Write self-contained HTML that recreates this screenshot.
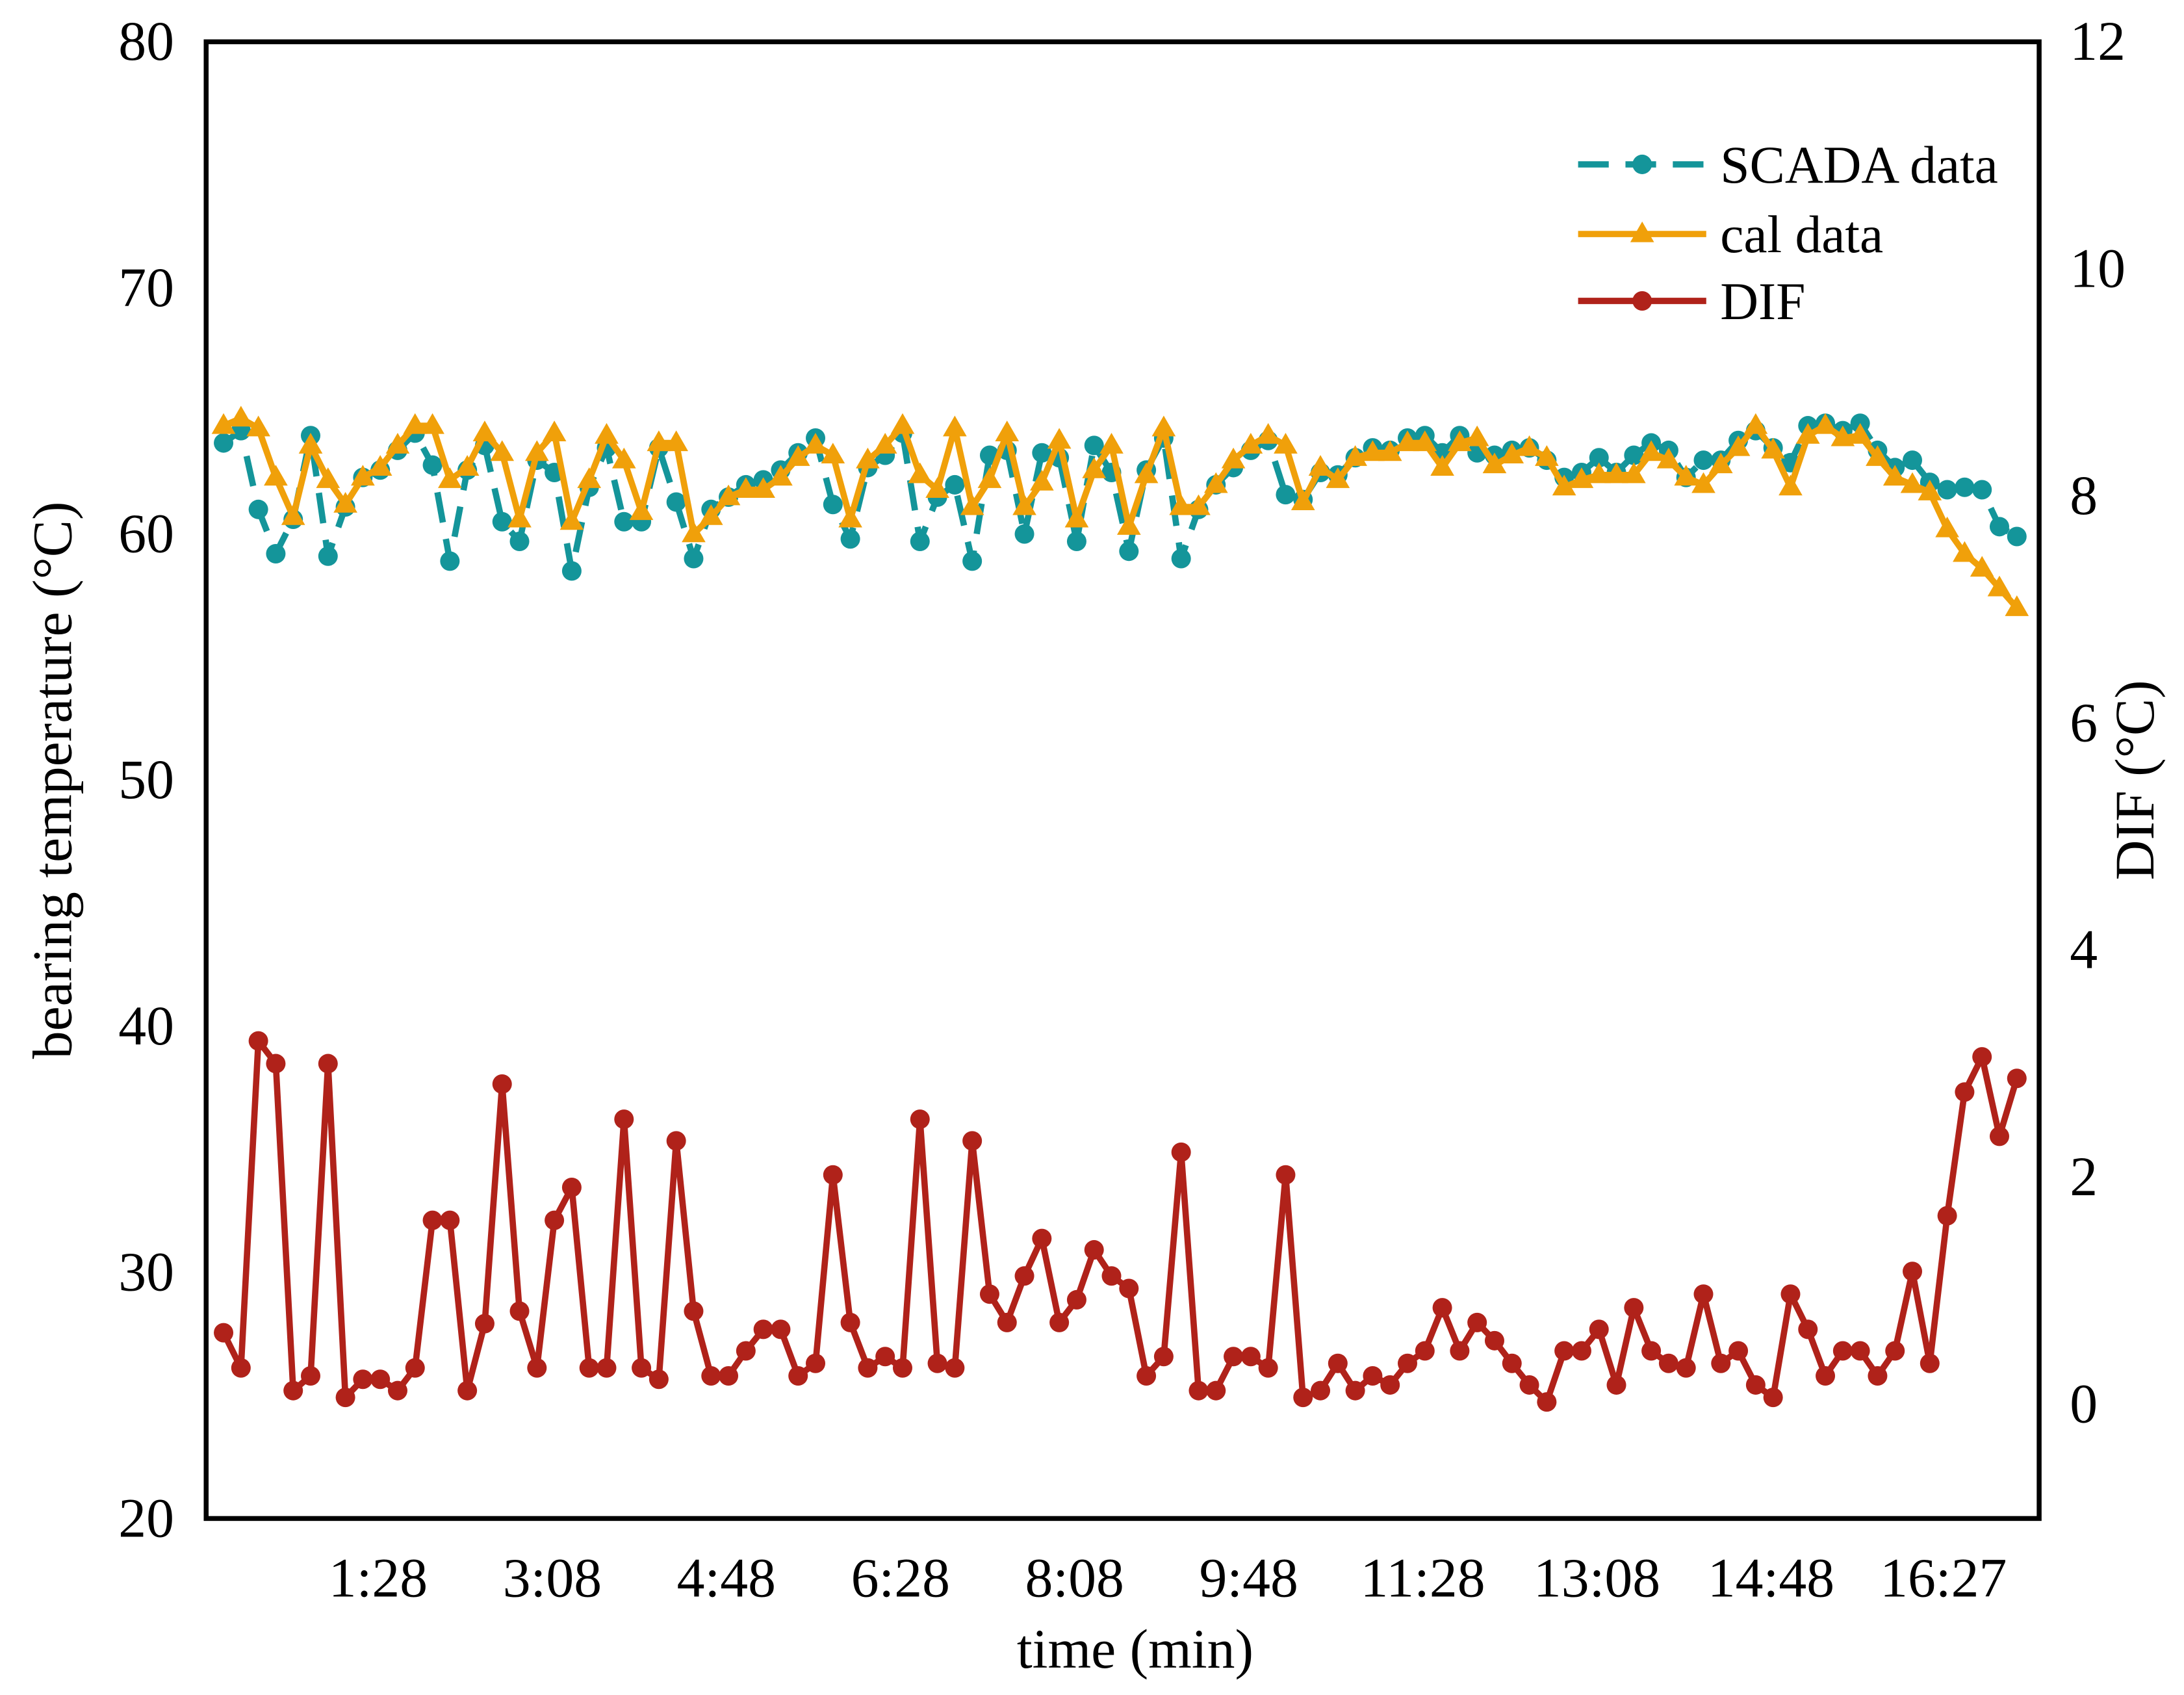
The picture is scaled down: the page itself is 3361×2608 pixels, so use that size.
<!DOCTYPE html>
<html><head><meta charset="utf-8"><style>html,body{margin:0;padding:0;background:#fff}svg{display:block}</style></head>
<body>
<svg id="chart" width="3361" height="2608" viewBox="0 0 1568 1216.7" xmlns="http://www.w3.org/2000/svg" font-family="'Liberation Serif', serif">
<rect x="0" y="0" width="1568" height="1217" fill="#fff"/>
<g id="plot"></g>
</svg>
<script>
const leftTicks=[20,30,40,50,60,70,80];
const rightTicks=[0,2,4,6,8,10,12];
const xTickLabels=["1:28","3:08","4:48","6:28","8:08","9:48","11:28","13:08","14:48","16:27"];
const xTickSeconds=[88,188,288,388,488,588,688,788,888,987];
const scada=[63.7,64.2,61.0,59.2,60.6,64.0,59.1,61.1,62.3,62.6,63.4,64.1,62.8,58.9,62.6,63.6,60.5,59.7,63.0,62.5,58.5,61.9,63.5,60.5,60.5,63.5,61.3,59.0,61.0,61.5,62.0,62.2,62.6,63.3,63.9,61.2,59.8,62.7,63.2,64.1,59.7,61.5,62.0,58.9,63.2,63.4,60.0,63.3,63.1,59.7,63.6,62.5,59.3,62.6,63.9,59.0,61.0,62.0,62.7,63.4,63.8,61.6,61.4,62.5,62.4,63.1,63.5,63.4,63.9,64.0,63.3,64.0,63.3,63.2,63.4,63.5,63.0,62.3,62.5,63.1,62.5,63.2,63.7,63.4,62.3,63.0,63.0,63.8,64.2,63.5,62.9,64.4,64.5,64.2,64.5,63.4,62.7,63.0,62.1,61.8,61.9,61.8,60.3,59.9];
const cal=[64.4,64.7,64.3,62.3,60.7,63.6,62.2,61.2,62.3,62.7,63.6,64.4,64.4,62.2,62.7,64.1,63.3,60.6,63.3,64.1,60.5,62.2,64.0,63.0,60.9,63.7,63.7,60.0,60.7,61.5,61.8,61.8,62.3,63.1,63.6,63.2,60.6,63.0,63.6,64.4,62.4,61.8,64.3,61.1,62.2,64.1,61.1,62.1,63.8,60.6,62.6,63.6,60.3,62.4,64.3,61.1,61.1,62.0,63.0,63.6,64.0,63.6,61.3,62.7,62.2,63.1,63.3,63.3,63.7,63.7,62.7,63.7,63.9,62.8,63.2,63.5,63.1,61.9,62.2,62.4,62.4,62.4,63.3,63.0,62.3,62.0,62.8,63.5,64.4,63.4,61.9,64.0,64.4,63.9,64.0,63.1,62.3,62.0,61.7,60.2,59.2,58.6,57.8,57.0];
const dif=[0.63,0.32,3.2,3.0,0.12,0.25,3.0,0.06,0.22,0.22,0.12,0.32,1.62,1.62,0.12,0.71,2.82,0.82,0.32,1.62,1.91,0.32,0.32,2.51,0.32,0.22,2.32,0.82,0.25,0.25,0.47,0.66,0.66,0.25,0.36,2.02,0.72,0.32,0.42,0.32,2.51,0.36,0.32,2.32,0.97,0.72,1.13,1.46,0.72,0.92,1.36,1.13,1.02,0.25,0.42,2.22,0.12,0.12,0.42,0.42,0.32,2.02,0.06,0.12,0.36,0.12,0.25,0.17,0.36,0.47,0.85,0.47,0.72,0.56,0.36,0.17,0.02,0.47,0.47,0.66,0.17,0.85,0.47,0.36,0.32,0.97,0.36,0.47,0.17,0.06,0.97,0.66,0.25,0.47,0.47,0.25,0.47,1.17,0.36,1.66,2.75,3.06,2.36,2.87];

const L=148,R=1464,T=30,B=1090;
const xs=t=>160.5+1.25*t;
const yL=v=>B-(v-20)*(B-T)/60;
const yR=v=>1008-v*(1008-T)/12;
const NS="http://www.w3.org/2000/svg";
const g=document.getElementById('plot');
function el(tag,attrs,parent){const e=document.createElementNS(NS,tag);for(const k in attrs)e.setAttribute(k,attrs[k]);(parent||g).appendChild(e);return e;}

const frame=el('rect',{x:L,y:T,width:R-L,height:B-T,fill:'none',stroke:'#000','stroke-width':3.5});



leftTicks.forEach(v=>{const t=el('text',{x:125,y:yL(v)+13,'text-anchor':'end','font-size':40,fill:'#000'});t.textContent=v;

});
rightTicks.forEach(v=>{const t=el('text',{x:1486,y:yR(v)+13,'text-anchor':'start','font-size':40,fill:'#000'});t.textContent=v;

});
xTickLabels.forEach((s,i)=>{const t=el('text',{x:xs(xTickSeconds[i])+1,y:1146,'text-anchor':'middle','font-size':40,fill:'#000'});t.textContent=s;

});

let t1=el('text',{x:0,y:0,'text-anchor':'middle','font-size':40,transform:'translate(51,560) rotate(-90)'});t1.textContent='bearing temperature (°C)';


let t2=el('text',{x:0,y:0,'text-anchor':'middle','font-size':40,transform:'translate(1546,560) rotate(-90)'});t2.textContent='DIF (°C)';


let t3=el('text',{x:815,y:1197,'text-anchor':'middle','font-size':40});t3.textContent='time (min)';



function tri(cx,cy,s,color,parent){return el('polygon',{points:`${cx},${cy-s} ${cx-s*0.95},${cy+s*0.65} ${cx+s*0.95},${cy+s*0.65}`,fill:color},parent);}

function series(vals,yf,color,name,dash,marker){
  const grp=el('g',{});
  
  
  const pts=vals.map((v,i)=>xs(i*10)+','+yf(v)).join(' ');
  const pl=el('polyline',{points:pts,fill:'none',stroke:color,'stroke-width':4.5,'stroke-dasharray':dash||'none','stroke-linejoin':'round'},grp);
  
  
  vals.forEach((v,i)=>{
    let m;
    if(marker==='tri') m=tri(xs(i*10),yf(v),9,color,grp);
    else m=el('circle',{cx:xs(i*10),cy:yf(v),r:7,fill:color},grp);
    
    
  });
}
series(scada,yL,'#14959a','scada','22 12','dot');
series(cal,yL,'#f0a00a','cal','','tri');
series(dif,yR,'#b0221a','dif','','dot');

const leg=[['SCADA data','#14959a','22 12','dot',118],['cal data','#f0a00a','','tri',168],['DIF','#b0221a','','dot',216]];
leg.forEach(([label,c,d,m,y])=>{
  const lg=el('g',{});
  
  
  el('line',{x1:1133,y1:y,x2:1225,y2:y,stroke:c,'stroke-width':4.5,'stroke-dasharray':d||'none'},lg);
  if(m==='tri') tri(1179,y,9,c,lg); else el('circle',{cx:1179,cy:y,r:7,fill:c},lg);
  const tx=el('text',{x:1235,y:y+13,'font-size':38},lg);tx.textContent=label;
});
</script>
</body></html>
